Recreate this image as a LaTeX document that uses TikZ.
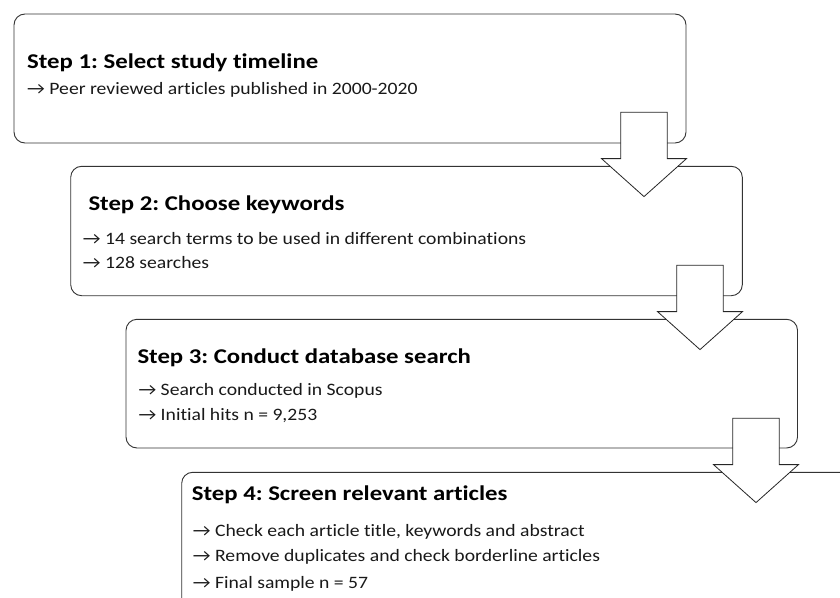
\documentclass[tikz,border=0pt]{standalone}
\usepackage{fontspec}
\setmainfont{Carlito}[Ligatures=CommonOff]
\newfontfamily\bodyfont{Carlito}[Ligatures=CommonOff,FakeStretch=1.13]
\newfontfamily\headfont{Carlito}[Ligatures=CommonOff,FakeStretch=1.18]
\frenchspacing
\begin{document}
\begin{tikzpicture}[x=1pt,y=-1pt,
  stepbox/.style={draw=black!80,line width=0.9pt,fill=white,rounded corners=11pt},
  arrowshape/.style={draw=black!85,line width=0.8pt,fill=white,line join=miter},
  titletext/.style={anchor=base west,inner sep=0pt,font=\headfont\fontsize{21}{24}\selectfont\bfseries,text=black},
  bodytext/.style={anchor=base west,inner sep=0pt,font=\bodyfont\fontsize{17.4}{21}\selectfont,text=black!90},
  downarrow/.pic={\draw[arrowshape] (-23.2,0) -- (23.2,0) -- (23.2,46.3) -- (42.5,46.3) -- (0,84.3) -- (-42.5,46.3) -- (-23.2,46.3) -- cycle;}]
\useasboundingbox (0,0) rectangle (840,597);
\clip (0,0) rectangle (840,597);
\fill[white] (0,0) rectangle (840,597);
% boxes
\draw[stepbox] (14,14) rectangle (686,143);
\coordinate (b1) at (14,14);
\draw[stepbox] (70.7,166.3) rectangle (742.3,295.7);
\coordinate (b2) at (70.7,166.3);
\draw[stepbox] (126,319.3) rectangle (797.5,448);
\coordinate (b3) at (126,319.3);
\draw[stepbox] (181.7,472.3) rectangle (880,610);
\coordinate (b4) at (181.7,472.3);
% texts
\node[titletext] (t1) at (27,68.3) {Step 1: Select study timeline};
\node[bodytext] (t1a) at (27,94) {→ Peer reviewed articles published in 2000-2020};
\node[titletext] (t2) at (88.3,210) {Step 2: Choose keywords};
\node[bodytext] (t2a) at (82.7,244) {→ 14 search terms to be used in different combinations};
\node[bodytext] (t2b) at (82.7,268.3) {→ 128 searches};
\node[titletext] (t3) at (137.3,363.3) {Step 3: Conduct database search};
\node[bodytext] (t3a) at (138.3,395.7) {→ Search conducted in Scopus};
\node[bodytext] (t3b) at (138.3,420.7) {→ Initial hits n = 9,253};
\node[titletext] (t4) at (191.7,500) {Step 4: Screen relevant articles};
\node[bodytext] (t4a) at (192.7,536.7) {→ Check each article title, keywords and abstract};
\node[bodytext] (t4b) at (192.7,561.7) {→ Remove duplicates and check borderline articles};
\node[bodytext] (t4c) at (192.7,588) {→ Final sample n = 57};
% arrows
\pic at (644,112.3) {downarrow};
\pic at (700,265.3) {downarrow};
\pic at (756,418.3) {downarrow};
\end{tikzpicture}
\end{document}
